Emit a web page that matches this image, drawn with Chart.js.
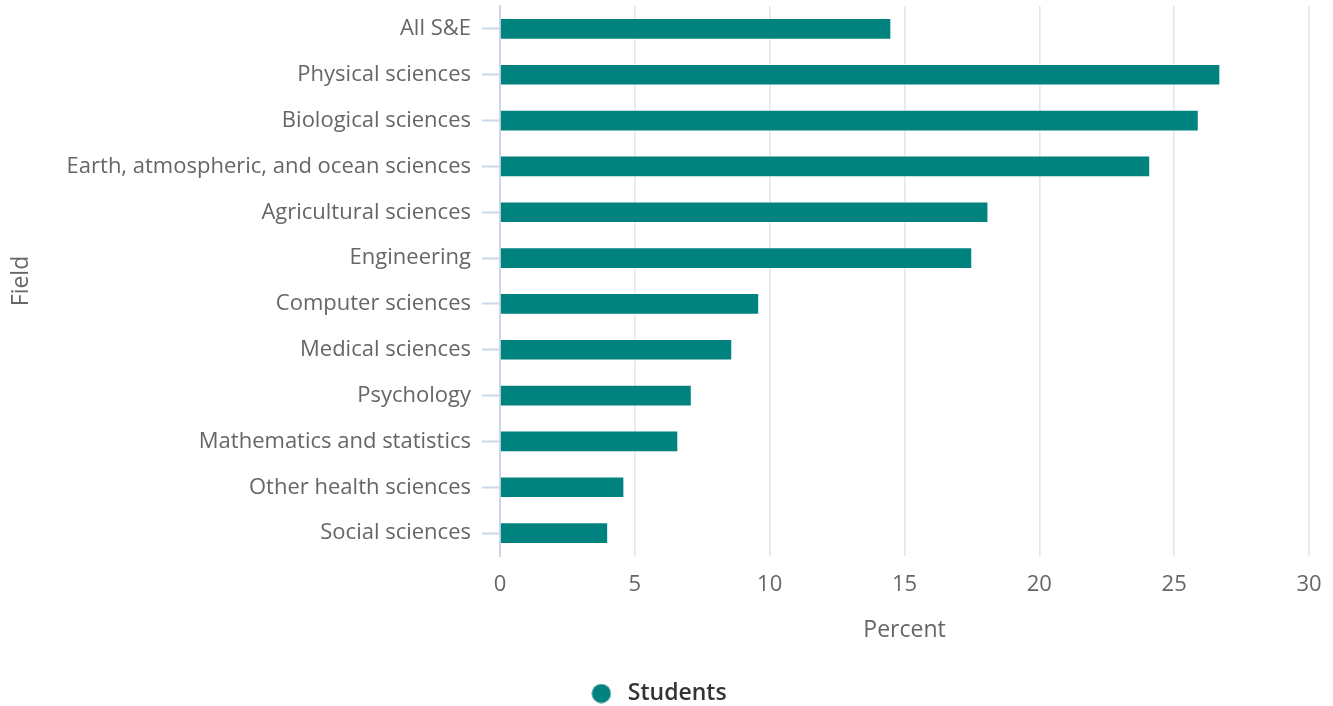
<!DOCTYPE html>
<html>
<head>
<meta charset="utf-8">
<script src="https://cdn.jsdelivr.net/npm/chart.js@4/dist/chart.umd.min.js"></script>
<style>
  html, body { margin: 0; padding: 0; background: #fff; }
  #wrap { width: 1333px; height: 706px; }
</style>
</head>
<body>
<div id="wrap"><canvas id="grafico"></canvas></div>
<script>
// Campos e percentuais
const campos = [
  'All S&E',
  'Physical sciences',
  'Biological sciences',
  'Earth, atmospheric, and ocean sciences',
  'Agricultural sciences',
  'Engineering',
  'Computer sciences',
  'Medical sciences',
  'Psychology',
  'Mathematics and statistics',
  'Other health sciences',
  'Social sciences'
];
const estudantes = [14.5, 26.7, 25.9, 24.1, 18.1, 17.5, 9.6, 8.6, 7.1, 6.6, 4.6, 4.0];
const ticksX = [0, 5, 10, 15, 20, 25, 30];

const fonte = "'Open Sans', sans-serif";
const teal = '#00827f';

// Círculo da legenda desenhado num canvas pequeno
const bolinha = document.createElement('canvas');
bolinha.width = 20;
bolinha.height = 20;
const bctx = bolinha.getContext('2d');
bctx.fillStyle = teal;
bctx.beginPath();
bctx.arc(10, 10, 9.5, 0, Math.PI * 2);
bctx.fill();

new Chart(document.getElementById('grafico'), {
  type: 'bar',
  data: {
    labels: campos,
    datasets: [{
      label: 'Students',
      data: estudantes,
      backgroundColor: teal,
      borderColor: 'rgba(255,255,255,0.5)',
      borderWidth: 1,
      barThickness: 21,
      pointStyle: bolinha
    }]
  },
  options: {
    indexAxis: 'y',
    responsive: true,
    maintainAspectRatio: false,
    animation: false,
    layout: { padding: { top: 6, right: 24, bottom: -9, left: 4 } },
    scales: {
      x: {
        min: 0,
        max: 30,
        afterBuildTicks: axis => { axis.ticks = ticksX.map(v => ({ value: v })); },
        afterFit: axis => { axis.paddingRight = 0; },
        grid: { color: '#e6e6e6', lineWidth: 1.6, drawTicks: false },
        border: { display: false },
        ticks: { color: '#666', font: { family: fonte, size: 22 }, padding: 16 },
        title: { display: true, text: 'Percent', color: '#666', font: { family: fonte, size: 23 }, padding: { top: 2, bottom: 38 } }
      },
      y: {
        afterFit: axis => { axis.paddingTop = 0; axis.paddingBottom = 0; },
        grid: { offset: false, drawOnChartArea: false, drawTicks: true, tickLength: 18, tickColor: '#ccd6eb', tickWidth: 2 },
        border: { display: true, color: '#ccd6eb', width: 2 },
        ticks: { color: '#666', font: { family: fonte, size: 22 }, padding: 11 },
        title: { display: true, text: 'Field', color: '#666', font: { family: fonte, size: 23 }, padding: { bottom: 20 } }
      }
    },
    plugins: {
      legend: {
        position: 'bottom',
        labels: {
          usePointStyle: true,
          pointStyleWidth: 30,
          boxHeight: 13.5,
          padding: 0,
          color: '#333',
          font: { family: fonte, size: 23, weight: '600' }
        }
      },
      tooltip: { enabled: false }
    }
  }
});
</script>
</body>
</html>
